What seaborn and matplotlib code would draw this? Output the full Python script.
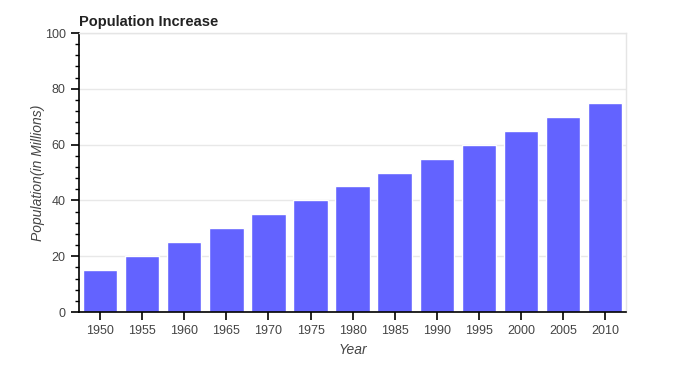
import pandas as pd
import matplotlib.pyplot as plt
import seaborn as sns
from matplotlib.ticker import MultipleLocator

years = ["1950", "1955", "1960", "1965", "1970", "1975", "1980",
         "1985", "1990", "1995", "2000", "2005", "2010"]
population = [15, 20, 25, 30, 35, 40, 45, 50, 55, 60, 65, 70, 75]

df = pd.DataFrame({"Year": years, "Population": population})

sns.set_style("white")
plt.rcParams["font.family"] = ["Liberation Sans", "DejaVu Sans"]

fig = plt.figure(figsize=(6.9, 3.71), dpi=100)
ax = fig.add_axes([0.1145, 0.159, 0.793, 0.752])

sns.barplot(data=df, x="Year", y="Population", color="#6363ff",
            saturation=1, width=0.82, ax=ax, zorder=2)

ax.set_ylim(0, 100)
ax.set_xlim(-0.5, len(years) - 0.5)
ax.yaxis.set_major_locator(MultipleLocator(20))
ax.yaxis.set_minor_locator(MultipleLocator(4))
ax.grid(axis="y", color="#e8e8e8", linewidth=1, zorder=0)
ax.set_axisbelow(True)

for side in ["top", "right"]:
    ax.spines[side].set_color("#e5e5e5")
    ax.spines[side].set_linewidth(1)
for side in ["left", "bottom"]:
    ax.spines[side].set_color("black")
    ax.spines[side].set_linewidth(1.2)

ax.tick_params(axis="both", which="major", direction="out", length=6,
               width=1.2, color="black", labelsize=9, labelcolor="#444444",
               left=True, bottom=True)
ax.tick_params(axis="y", which="minor", direction="out", length=3,
               width=1, color="black", left=True)

ax.set_xlabel("Year", fontsize=10, style="italic", color="#444444", labelpad=4)
ax.set_ylabel("Population(in Millions)", fontsize=10, style="italic",
              color="#444444", labelpad=0)
ax.set_title("Population Increase", loc="left", fontsize=10.5,
             fontweight="bold", color="#222222", pad=5)

fig.savefig("out.png", dpi=100)
